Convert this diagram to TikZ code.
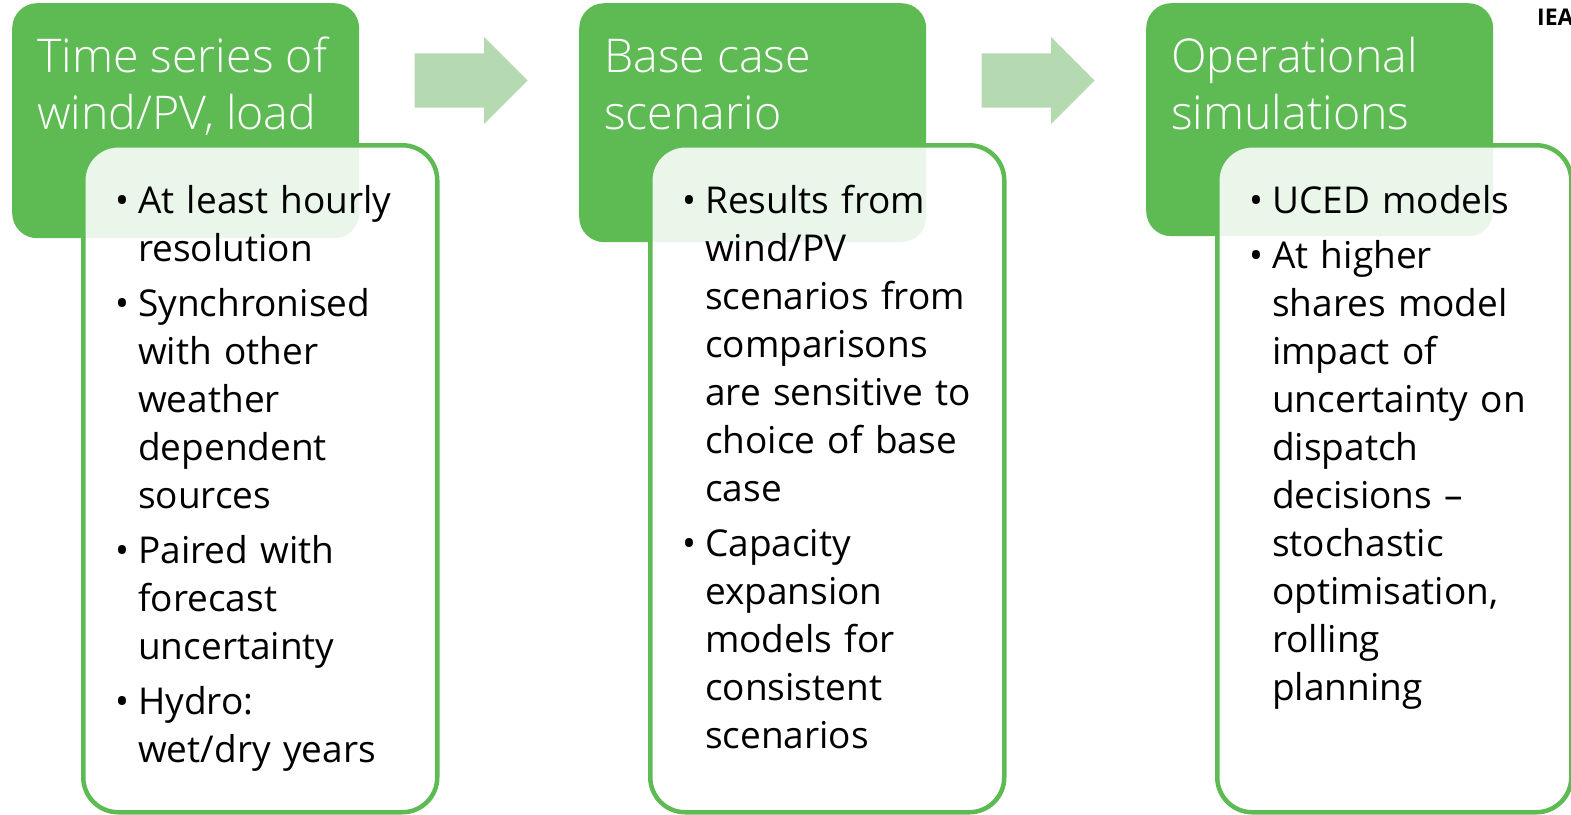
\documentclass[tikz,border=0pt]{standalone}
\usepackage{fontspec}
\setmainfont{Open Sans}
\newfontfamily\hdrfont{Open Sans}[UprightFont=* Light]
\usetikzlibrary{shapes.arrows}

\definecolor{hdrgreen}{RGB}{94,187,84}
\definecolor{arrowgreen}{RGB}{181,218,178}

% bullet with hanging indent
\newcommand{\bitem}{\par\hangindent=23pt\hangafter=1\noindent\makebox[23pt][l]{\textbullet}}

\begin{document}
\begin{tikzpicture}[x=1pt,y=-1pt,
    hdrbox/.style={fill=hdrgreen, rounded corners=25pt, anchor=north west,
                   inner sep=0pt, minimum width=347pt},
    bodybox/.style={draw=hdrgreen, line width=4.5pt, fill=white, fill opacity=0.88,
                    rounded corners=35pt, anchor=north west, inner sep=0pt,
                    minimum width=354pt, minimum height=667pt},
    hdrtext/.style={anchor=north west, inner sep=0pt, align=left, text=white,
                    font=\hdrfont\fontsize{46.5}{57}\selectfont},
    bodytext/.style={anchor=north west, inner sep=0pt, text width=330pt,
                     font=\fontsize{37}{48}\selectfont\setlength{\parskip}{7pt}},
    flowarrow/.style={single arrow, fill=arrowgreen, inner sep=27pt, anchor=tip,
                      minimum height=113pt, single arrow head extend=16.5pt,
                      single arrow head indent=0pt}]
    \useasboundingbox (0,0) rectangle (1571,814);

    \begin{scope}[shift={(12,0)}]
        \node[hdrbox, minimum height=235pt] (hdrA) at (0,3) {};
        \node[hdrtext] (titleA) at (25,32) {\rule{0pt}{40pt}Time series of\\wind/PV, load};
        \node[bodybox] (bodyA) at (69,143) {};
        \node[bodytext] (listA) at (103,158) {%
            \bitem\rule{0pt}{30pt}At least hourly\newline resolution
            \bitem Synchronised\newline with other\newline weather\newline dependent\newline sources
            \bitem Paired with\newline forecast\newline uncertainty
            \bitem Hydro:\newline wet/dry years\par};
    \end{scope}

    \begin{scope}[shift={(579,0)}]
        \node[hdrbox, minimum height=239pt] (hdrB) at (0,3) {};
        \node[hdrtext] (titleB) at (25,32) {\rule{0pt}{40pt}Base case\\scenario};
        \node[bodybox] (bodyB) at (69,143) {};
        \node[bodytext] (listB) at (103,158) {%
            \bitem\rule{0pt}{30pt}Results from\newline wind/PV\newline scenarios from\newline comparisons\newline are sensitive to\newline choice of base\newline case
            \bitem Capacity\newline expansion\newline models for\newline consistent\newline scenarios\par};
    \end{scope}

    \begin{scope}[shift={(1146,0)}]
        \node[hdrbox, minimum height=233pt] (hdrC) at (0,3) {};
        \node[hdrtext] (titleC) at (25,32) {\rule{0pt}{40pt}Operational\\simulations};
        \node[bodybox] (bodyC) at (69,143) {};
        \node[bodytext] (listC) at (103,158) {%
            \bitem\rule{0pt}{30pt}UCED models
            \bitem At higher\newline shares model\newline impact of\newline uncertainty on\newline dispatch\newline decisions –\newline stochastic\newline optimisation,\newline rolling\newline planning\par};
    \end{scope}

    \node[flowarrow] (arrowAB) at (528,80.5) {};
    \node[flowarrow] (arrowBC) at (1095,80.5) {};

    \node[anchor=base west, inner sep=0pt, font=\bfseries\fontsize{23}{26}\selectfont] (iea) at (1537,25) {IEA};
\end{tikzpicture}
\end{document}
